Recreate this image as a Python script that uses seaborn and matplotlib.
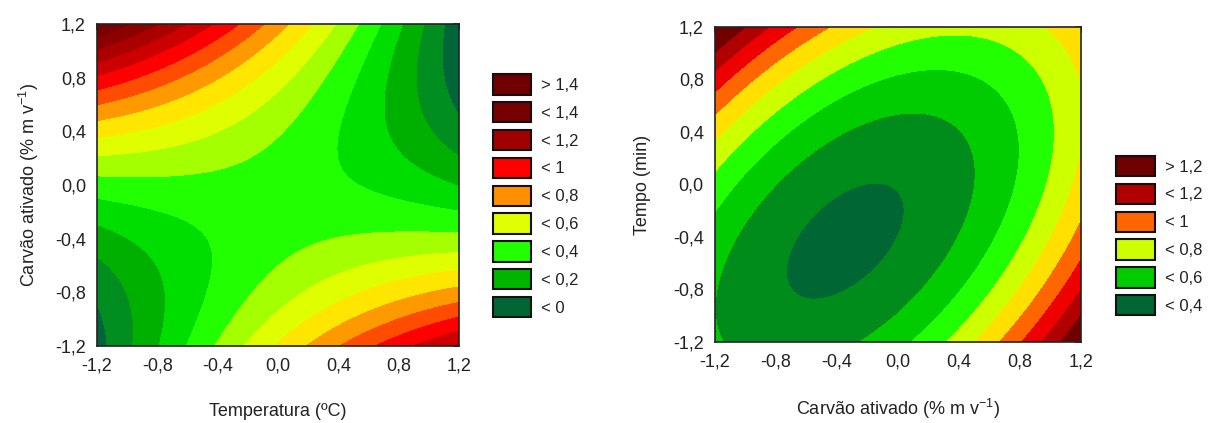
import numpy as np
import matplotlib
matplotlib.use("Agg")
import matplotlib.pyplot as plt
from matplotlib.patches import Patch
from matplotlib.ticker import MultipleLocator, FuncFormatter
import seaborn as sns

# Contour-level crossings, per panel: x, y and the level z there.
left_x = [-0.99, -0.77, -0.55, -0.40, -0.24, -0.066, 0.09, 0.246, 0.38, 0.555, 0.665, 0.82, 0.953, 1.075,
          -1.2, -1.2, -1.2, -1.2, -1.2, -1.2, -1.2, -1.2, -1.2, -1.2, -1.2, -1.2,
          -1.17, -1.01, -0.85, -0.55, -0.37, 0.478, 0.743, 1.03,
          1.2, 1.2, 1.2, 1.2, 1.2, 1.2, 1.2, 1.2]
left_y = [1.2, 1.2, 1.2, 1.2, 1.2, 1.2, 1.2, 1.2, 1.2, 1.2, 1.2, 1.2, 1.2, 1.2,
          1.043, 0.93, 0.819, 0.707, 0.596, 0.484, 0.37, 0.24, 0.06, -0.09, -0.29, -0.54,
          -1.2, -1.2, -1.2, -1.2, -1.2, -1.2, -1.2, -1.2,
          0.24, -0.29, -0.46, -0.6, -0.73, -0.84, -0.96, -1.07]
left_z = [1.3, 1.2, 1.1, 1.0, 0.9, 0.8, 0.7, 0.6, 0.5, 0.4, 0.3, 0.2, 0.1, 0.0,
          1.2, 1.1, 1.0, 0.9, 0.8, 0.7, 0.6, 0.5, 0.4, 0.3, 0.2, 0.1,
          0.0, 0.1, 0.2, 0.3, 0.4, 0.8, 0.9, 1.0,
          0.0, 0.4, 0.5, 0.6, 0.7, 0.8, 0.9, 1.0]

right_x = [-1.058, -0.14, 0.10, 0.32, 0.494, 0.647, 0.80, 0.953, 1.106,
           -1.2, -1.2, -1.2, -1.2, -1.2, -1.2, -1.2,
           -0.905, -0.774, -0.623, -0.468, -0.295, 0.95,
           1.2, 1.2, 1.2, 1.2, 1.2, 1.2,
           -0.695, 0.08, -0.18, -0.47, 0.013, 0.48, -1.13]
right_y = [-1.2, -1.2, -1.2, -1.2, -1.2, -1.2, -1.2, -1.2, -1.2,
           1.08, 0.87, 0.68, 0.517, 0.377, 0.187, -0.217,
           1.2, 1.2, 1.2, 1.2, 1.2, 1.2,
           1.2, 0.4, -0.27, -0.575, -0.78, -0.98,
           -0.575, -0.17, 0.05, -0.84, 0.542, 0.085, -0.88]
right_z = [0.5, 0.5, 0.6, 0.7, 0.8, 0.9, 1.0, 1.1, 1.2,
           1.2, 1.1, 1.0, 0.9, 0.8, 0.7, 0.6,
           1.2, 1.1, 1.0, 0.9, 0.8, 0.8,
           0.85, 0.82, 0.9, 1.0, 1.1, 1.2,
           0.4, 0.4, 0.4, 0.4, 0.5, 0.5, 0.5]

ticks = [-1.2, -0.8, -0.4, 0.0, 0.4, 0.8, 1.2]
tick_labels = ['-1,2', '-0,8', '-0,4', '0,0', '0,4', '0,8', '1,2']

left_levels = [0, 0.1, 0.2, 0.3, 0.4, 0.5, 0.6, 0.7, 0.8, 0.9, 1.0, 1.1, 1.2, 1.3, 1.4]
left_colors = ['#00663a', '#008f1f', '#00b000', '#00de00', '#22ff00', '#a4ff00', '#dfff00', '#ffe600',
               '#ff9900', '#ff4c00', '#ff0000', '#cc0000', '#aa0000', '#8c0000', '#780000', '#6a0000']
right_levels = [0.4, 0.5, 0.6, 0.7, 0.8, 0.9, 1.0, 1.1, 1.2]
right_colors = ['#006633', '#008c1a', '#00cc00', '#22ff00', '#ccff00', '#ffe000', '#ff6600', '#ee0000',
                '#b00000', '#700000']
left_legend = ['> 1,4', '< 1,4', '< 1,2', '< 1', '< 0,8', '< 0,6', '< 0,4', '< 0,2', '< 0']
left_legend_colors = ['#700000', '#780000', '#a00000', '#ff0000', '#ff9000', '#e0ff00', '#22ff00', '#00b400', '#006633']
right_legend = ['> 1,2', '< 1,2', '< 1', '< 0,8', '< 0,6', '< 0,4']
right_legend_colors = ['#700000', '#b00000', '#ff6600', '#ccff00', '#00cc00', '#006633']


def design(x, y):
    x = np.asarray(x, float)
    y = np.asarray(y, float)
    return np.stack([np.ones_like(x), x, y, x * x, y * y, x * y], axis=-1)


def fit(xs, ys, zs):
    c, *_ = np.linalg.lstsq(design(xs, ys), np.asarray(zs, float), rcond=None)
    return c


cL = fit(left_x, left_y, left_z)
cR = fit(right_x, right_y, right_z)

sns.set_style("white")
plt.rcParams['font.family'] = ['Liberation Sans', 'DejaVu Sans']
plt.rcParams['mathtext.default'] = 'regular'

fig = plt.figure(figsize=(12.19, 4.23), dpi=100)
axL = fig.add_axes([0.0796, 0.182, 0.297, 0.761])
axR = fig.add_axes([0.5865, 0.1915, 0.3002, 0.7447])

g = np.linspace(-1.2, 1.2, 400)
X, Y = np.meshgrid(g, g)
ZL = design(X, Y) @ cL
ZR = design(X, Y) @ cR

axL.contourf(X, Y, ZL, levels=[-10] + left_levels + [10], colors=left_colors)
axR.contourf(X, Y, ZR, levels=[-10] + right_levels + [10], colors=right_colors)

for ax in (axL, axR):
    ax.set_xlim(-1.2, 1.2)
    ax.set_ylim(-1.2, 1.2)
    ax.set_xticks(ticks)
    ax.set_xticklabels(tick_labels)
    ax.set_yticks(ticks)
    ax.set_yticklabels(tick_labels)
    ax.xaxis.set_minor_locator(MultipleLocator(0.2))
    ax.yaxis.set_minor_locator(MultipleLocator(0.2))
    ax.tick_params(which='both', direction='in', top=True, right=True, length=4, width=1.2,
                   color='#222222', labelsize=13, labelcolor='#222222', pad=8)
    for s in ax.spines.values():
        s.set_color('#222222')
        s.set_linewidth(1.2)

axL.set_xlabel('Temperatura (ºC)', fontsize=13, color='#222222', labelpad=21)
axL.set_ylabel('Carvão ativado (% m v$^{-1}$)', fontsize=13, color='#222222', labelpad=10)
axR.set_xlabel('Carvão ativado (% m v$^{-1}$)', fontsize=13, color='#222222', labelpad=19)
axR.set_ylabel('Tempo (min)', fontsize=13, color='#222222', labelpad=16)

hL = [Patch(facecolor=c, edgecolor='#111111', linewidth=1.5) for c in left_legend_colors]
fig.legend(hL, left_legend, loc='upper left', bbox_to_anchor=(0.392, 0.86), frameon=False,
           fontsize=12, handlelength=2.3, handleheight=1.5, labelspacing=0.45, handletextpad=0.6,
           labelcolor='#222222')
hR = [Patch(facecolor=c, edgecolor='#111111', linewidth=1.5) for c in right_legend_colors]
fig.legend(hR, right_legend, loc='upper left', bbox_to_anchor=(0.9035, 0.667), frameon=False,
           fontsize=12, handlelength=2.3, handleheight=1.5, labelspacing=0.45, handletextpad=0.6,
           labelcolor='#222222')

fig.savefig('out.png', dpi=100)
